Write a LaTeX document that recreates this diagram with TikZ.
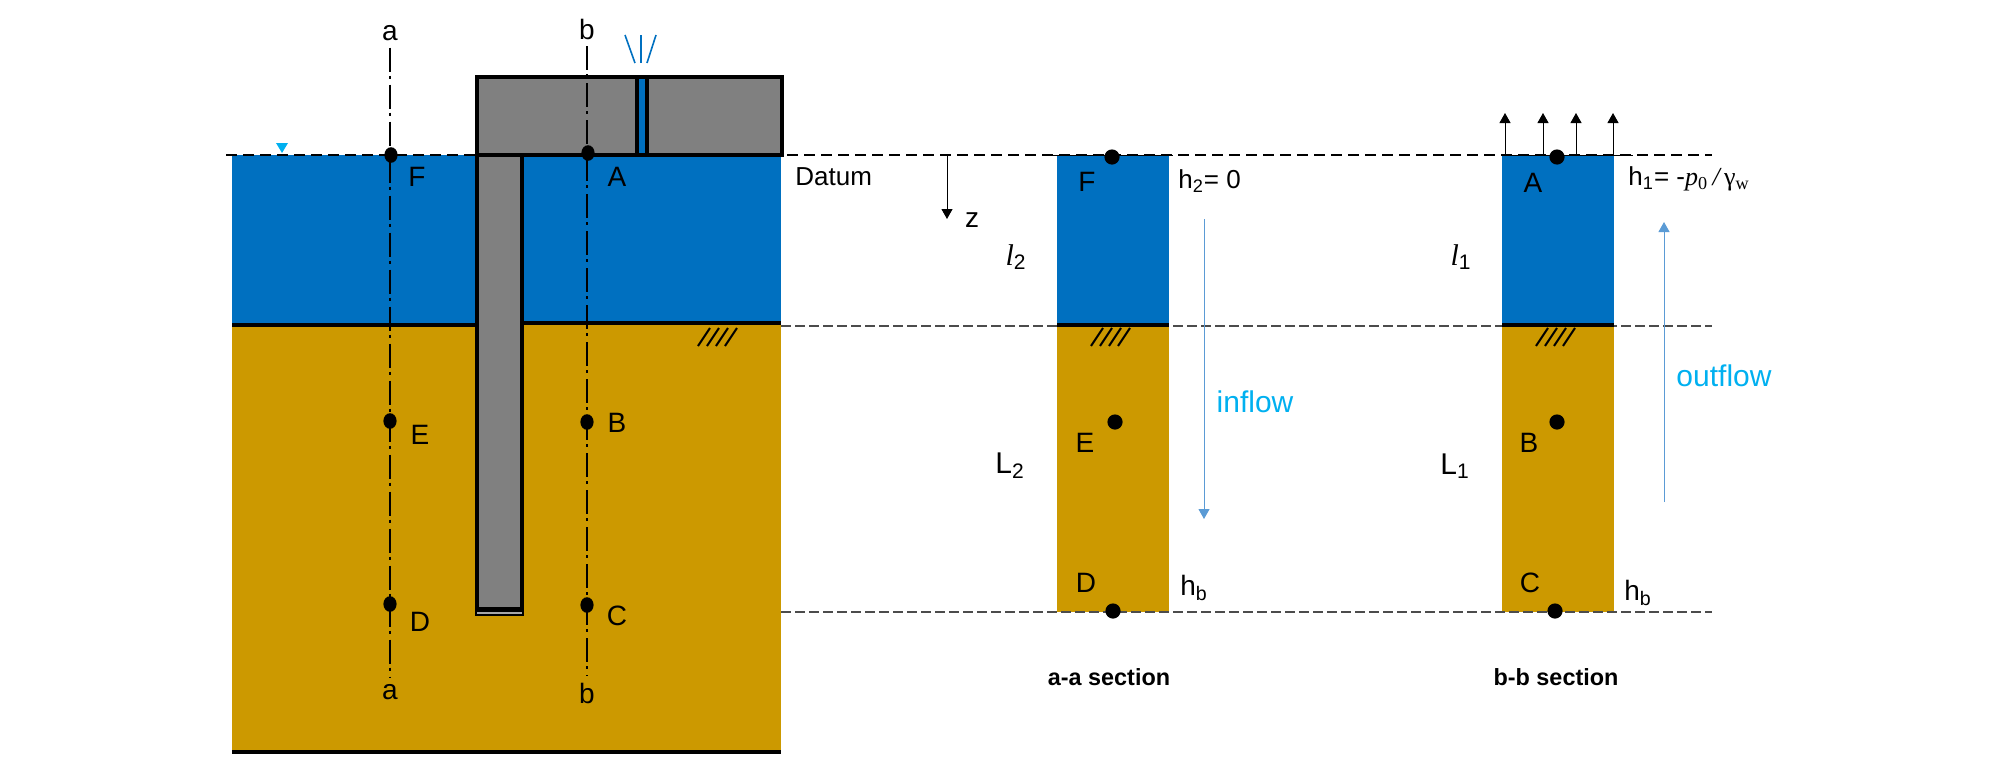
\documentclass[tikz,border=0pt]{standalone}
\usepackage{fontspec}
\setmainfont{Liberation Sans}
\newfontfamily\symbfont{Liberation Serif}
\usepackage{xcolor}
\usepackage{tikz}
\usetikzlibrary{shapes.geometric, arrows.meta}
\definecolor{water}{HTML}{0070C0}
\definecolor{soil}{HTML}{CC9900}
\definecolor{wall}{HTML}{808080}
\definecolor{flowline}{HTML}{5B9BD5}
\definecolor{flowtext}{HTML}{00B0F0}
\tikzstyle{lab} = [inner sep=0pt, font=\fontsize{14}{16}\selectfont]
\tikzstyle{axlab} = [lab, outer sep=3.5pt]
\tikzstyle{smalllab} = [inner sep=0pt, font=\fontsize{13}{15}\selectfont]
\tikzstyle{seclab} = [inner sep=0pt, font=\fontsize{11.7}{14}\selectfont\bfseries]
\tikzstyle{flowlab} = [inner sep=0pt, text=flowtext, font=\fontsize{15}{18}\selectfont]
\tikzstyle{symlab} = [inner sep=0pt, font=\fontsize{15}{18}\selectfont\symbfont\itshape]
\tikzstyle{pdot} = [ellipse, minimum width=6.6pt, minimum height=7.8pt, inner sep=0pt, fill=black]
\tikzstyle{sdot} = [circle, minimum width=7.6pt, inner sep=0pt, fill=black]
\tikzstyle{axis} = [line width=0.75pt, dash pattern=on 12pt off 2pt on 1.5pt off 3pt]
\tikzstyle{datum} = [line width=1.3pt, dash pattern=on 5.5pt off 3pt]
\tikzstyle{level} = [line width=0.6pt, draw=black!70, dash pattern=on 5pt off 2pt]
\tikzstyle{arrow} = [line width=0.5pt, -{Stealth[inset=0pt, length=5pt, width=5.5pt]}]
\tikzstyle{flow} = [line width=0.5pt, draw=flowline, -{Stealth[inset=0pt, length=5pt, width=5.5pt]}]
\tikzstyle{edge} = [line width=1.6pt]
\tikzstyle{hatch} = [line width=1pt]
\begin{document}
\begin{tikzpicture}[x=0.5pt, y=-0.5pt]
\useasboundingbox (0,0) rectangle (2008,766);

\fill [soil] (232,323) rectangle (781,752);
\fill [water] (232,155) rectangle (781,323);
\fill [soil] (1057,323) rectangle (1169,612);
\fill [water] (1057,155) rectangle (1169,323);
\fill [soil] (1502,323) rectangle (1614,612);
\fill [water] (1502,155) rectangle (1614,323);

\coordinate (gl) at (781,326);
\coordinate (gr) at (1712,326);
\coordinate (bl) at (781,612);
\coordinate (br) at (1712,612);
\coordinate (dl) at (226,155);
\coordinate (dr) at (1712,155);
\draw [level] (gl) -- (gr);
\draw [level] (bl) -- (br);

\draw [edge] (232,325) -- (476,325);
\draw [edge] (522,323) -- (781,323);
\draw [line width=2.4pt] (232,752) -- (781,752);
\draw [edge] (1057,325) -- (1169,325);
\draw [edge] (1502,325) -- (1614,325);

\draw [line width=0.4pt, water] (475,325) -- (475,609);
\filldraw [wall, draw=black, edge] (477,155) rectangle (522,609);
\filldraw [fill=wall!70, draw=black, line width=1.2pt] (476,610.5) rectangle (523,615);
\filldraw [wall, draw=black, edge] (477,77) rectangle (782,155);
\filldraw [water, draw=black, edge] (637,77) rectangle (647,155);

\draw [datum] (dl) -- (dr);
\draw [line width=0.5pt] (1046,155) -- (1173,155);
\draw [line width=0.5pt] (1503,155) -- (1633,155);
\fill [flowtext] (276,143) -- (288,143) -- (282,153) -- cycle;

\draw [water, line width=0.8pt] (625,35) -- (635,63);
\draw [water, line width=0.8pt] (641,35) -- (641,63);
\draw [water, line width=0.8pt] (656,35) -- (647,63);

\draw [hatch] (698,346) -- (710,328) (707,346) -- (719,328) (716,346) -- (728,328) (725,346) -- (737,328);
\draw [hatch] (1091,346) -- (1103,328) (1100,346) -- (1112,328) (1109,346) -- (1121,328) (1118,346) -- (1130,328);
\draw [hatch] (1536,346) -- (1548,328) (1545,346) -- (1557,328) (1554,346) -- (1566,328) (1563,346) -- (1575,328);

\node (atop) [axlab] at (390,33) {a};
\node (btop) [axlab] at (587,29) {b};
\node (abot) [axlab] at (390,692) {a};
\node (bbot) [axlab] at (587,693) {b};
\draw [axis] (atop) -- (abot);
\draw [axis] (btop) -- (bbot);

\node (pf) [pdot] at (391,155) {};
\node (pa) [pdot] at (588,153) {};
\node (pe) [pdot] at (390,421) {};
\node (pd) [pdot] at (390,604) {};
\node (pb) [pdot] at (587,422) {};
\node (pc) [pdot] at (587,605) {};

\node (lf) [lab] at (417,177) {F};
\node (la) [lab] at (617,177) {A};
\node (le) [lab] at (420,435) {E};
\node (ld) [lab] at (420,622) {D};
\node (lb) [lab] at (617,423) {B};
\node (lc) [lab] at (617,616) {C};

\node (datumlab) [smalllab, anchor=west] at (795,177) {Datum};
\coordinate (zt) at (947,155);
\coordinate (zb) at (947,219);
\draw [arrow] (zt) -- (zb);
\node (zlab) [lab] at (972,220) {z};

\node (sf) [sdot] at (1112,157) {};
\node (se) [sdot] at (1115,422) {};
\node (sd) [sdot] at (1113,611) {};
\node (slf) [lab] at (1087,182) {F};
\node (sle) [lab] at (1085,443) {E};
\node (sld) [lab] at (1086,583) {D};
\node (l2lab) [symlab] at (1016,257) {l\textsubscript{\normalfont 2}};
\node (L2lab) [lab, font=\fontsize{15}{18}\selectfont] at (1010,466) {L\textsubscript{2}};
\node (h2lab) [smalllab, anchor=west] at (1178,181) {h\textsubscript{2}= 0};
\node (hblab) [lab] at (1194,588) {h\textsubscript{b}};

\coordinate (ift) at (1204,219);
\coordinate (ifb) at (1204,519);
\draw [flow] (ift) -- (ifb);
\node (inlab) [flowlab] at (1255,402) {inflow};
\node (seca) [seclab] at (1109,677) {a-a section};

\node (sa) [sdot] at (1557,157) {};
\node (sb) [sdot] at (1557,422) {};
\node (sc) [sdot] at (1555,611) {};
\node (sla) [lab] at (1533,183) {A};
\node (slb) [lab] at (1529,443) {B};
\node (slc) [lab] at (1530,583) {C};
\node (l1lab) [symlab] at (1461,257) {l\textsubscript{\normalfont 1}};
\node (L1lab) [lab, font=\fontsize{15}{18}\selectfont] at (1455,466) {L\textsubscript{1}};
\node (h1lab) [smalllab, anchor=west] at (1628,179) {h\textsubscript{1}= -{\symbfont\itshape p}\textsubscript{\symbfont 0}{\symbfont\itshape\,/\,}{\symbfont γ}\textsubscript{\symbfont w}};
\node (hblab2) [lab] at (1638,593) {h\textsubscript{b}};

\coordinate (up1a) at (1505,155);
\coordinate (up1b) at (1505,113);
\coordinate (up2a) at (1543,155);
\coordinate (up2b) at (1543,113);
\coordinate (up3a) at (1576,155);
\coordinate (up3b) at (1576,113);
\coordinate (up4a) at (1613,155);
\coordinate (up4b) at (1613,113);
\draw [arrow] (up1a) -- (up1b);
\draw [arrow] (up2a) -- (up2b);
\draw [arrow] (up3a) -- (up3b);
\draw [arrow] (up4a) -- (up4b);

\coordinate (oft) at (1664,222);
\coordinate (ofb) at (1664,502);
\draw [flow] (ofb) -- (oft);
\node (outlab) [flowlab] at (1724,376) {outflow};
\node (secb) [seclab] at (1556,677) {b-b section};

\end{tikzpicture}
\end{document}
